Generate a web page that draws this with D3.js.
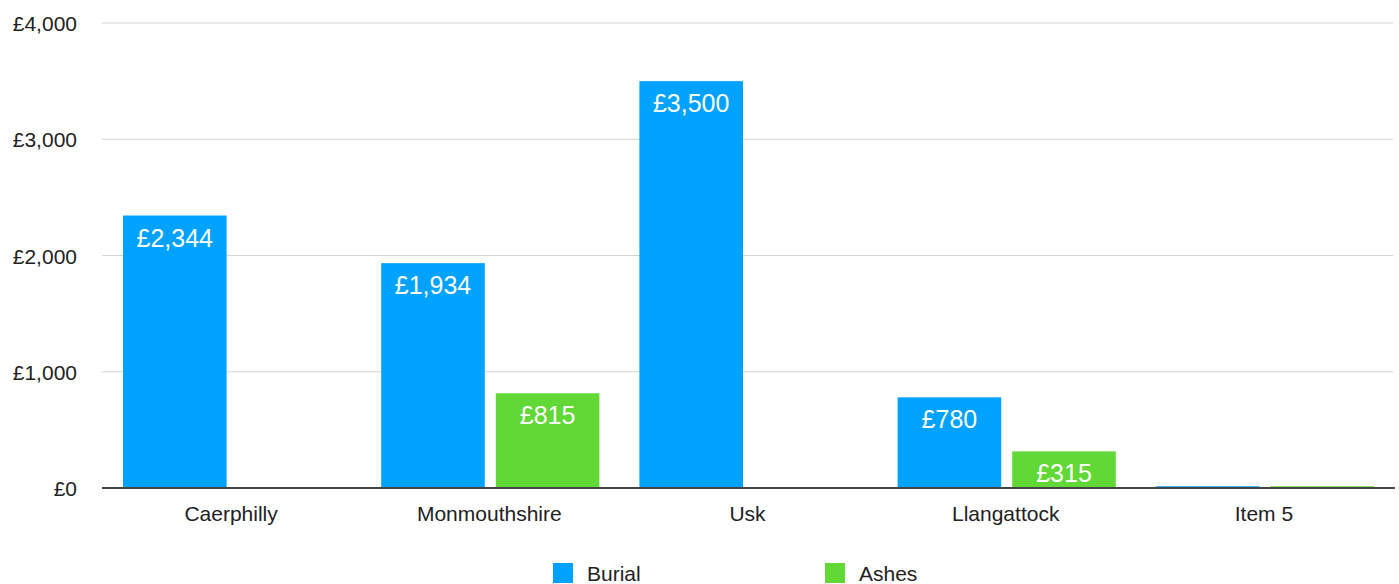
<!DOCTYPE html>
<html>
<head>
<meta charset="utf-8">
<script src="https://cdn.jsdelivr.net/npm/d3@7"></script>
<style>
  body { margin: 0; background: #fff; overflow: hidden; }
  text { font-family: "Liberation Sans", Arial, sans-serif; }
</style>
</head>
<body>
<div id="viz"></div>
<script>
const categories = ["Caerphilly", "Monmouthshire", "Usk", "Llangattock", "Item 5"]
const seriesNames = ["Burial", "Ashes"]
const burial = [2344, 1934, 3500, 780, 15]
const ashes = [0, 815, 0, 315, 15]
const yTicks = [0, 1000, 2000, 3000, 4000]
const colors = ["#00A2FF", "#61D836"]

const width = 1399, height = 584
const svg = d3.select("#viz").append("svg").attr("width", width).attr("height", height)

const x = d3.scaleBand().domain(categories).range([102, 1393]).paddingInner(0).paddingOuter(0)
const y = d3.scaleLinear().domain([0, 4000]).range([488, 23])
const inner = d3.scaleBand().domain(seriesNames).range([21, x.bandwidth() - 19]).paddingInner(0.096)

const fmt = v => "£" + d3.format(",")(v)

// grid
svg.append("g").selectAll("line").data(yTicks.filter(d => d > 0)).join("line")
    .attr("x1", 102).attr("x2", 1393)
    .attr("y1", d => y(d)).attr("y2", d => y(d))
    .attr("stroke", "#d4d4d4").attr("stroke-width", 1)

svg.append("g").selectAll("text").data(yTicks).join("text")
    .attr("x", 77).attr("y", d => y(d) + 8)
    .attr("text-anchor", "end").attr("font-size", 21).attr("fill", "#222")
    .text(fmt)

// bars
const rows = categories.map((c, i) => ({ cat: c, vals: [burial[i], ashes[i]] }))
const groups = svg.append("g").selectAll("g").data(rows).join("g")
    .attr("transform", d => `translate(${x(d.cat)},0)`)

groups.selectAll("rect").data(d => d.vals.map((v, j) => ({ v, s: seriesNames[j], j })).filter(d => d.v > 0))
    .join("rect")
    .attr("x", d => inner(d.s)).attr("width", inner.bandwidth())
    .attr("y", d => y(d.v)).attr("height", d => y(0) - y(d.v))
    .attr("fill", d => colors[d.j])

groups.selectAll("text").data(d => d.vals.map((v, j) => ({ v, s: seriesNames[j], j })).filter(d => d.v > 100))
    .join("text")
    .attr("x", d => inner(d.s) + inner.bandwidth() / 2).attr("y", d => y(d.v) + 31)
    .attr("text-anchor", "middle").attr("font-size", 25).attr("fill", "#fff")
    .text(d => fmt(d.v))

// axis line
svg.append("line").attr("x1", 102).attr("x2", 1395).attr("y1", y(0)).attr("y2", y(0))
    .attr("stroke", "#444").attr("stroke-width", 2)

svg.append("g").selectAll("text").data(categories).join("text")
    .attr("x", d => x(d) + x.bandwidth() / 2).attr("y", 521)
    .attr("text-anchor", "middle").attr("font-size", 21).attr("fill", "#222")
    .text(d => d)

// legend
const legend = svg.append("g").selectAll("g").data(seriesNames).join("g")
    .attr("transform", (d, i) => `translate(${553 + i * 272},563)`)
legend.append("rect").attr("width", 20).attr("height", 20).attr("fill", (d, i) => colors[i])
legend.append("text").attr("x", 34).attr("y", 18).attr("font-size", 21).attr("fill", "#222").text(d => d)
</script>
</body>
</html>
